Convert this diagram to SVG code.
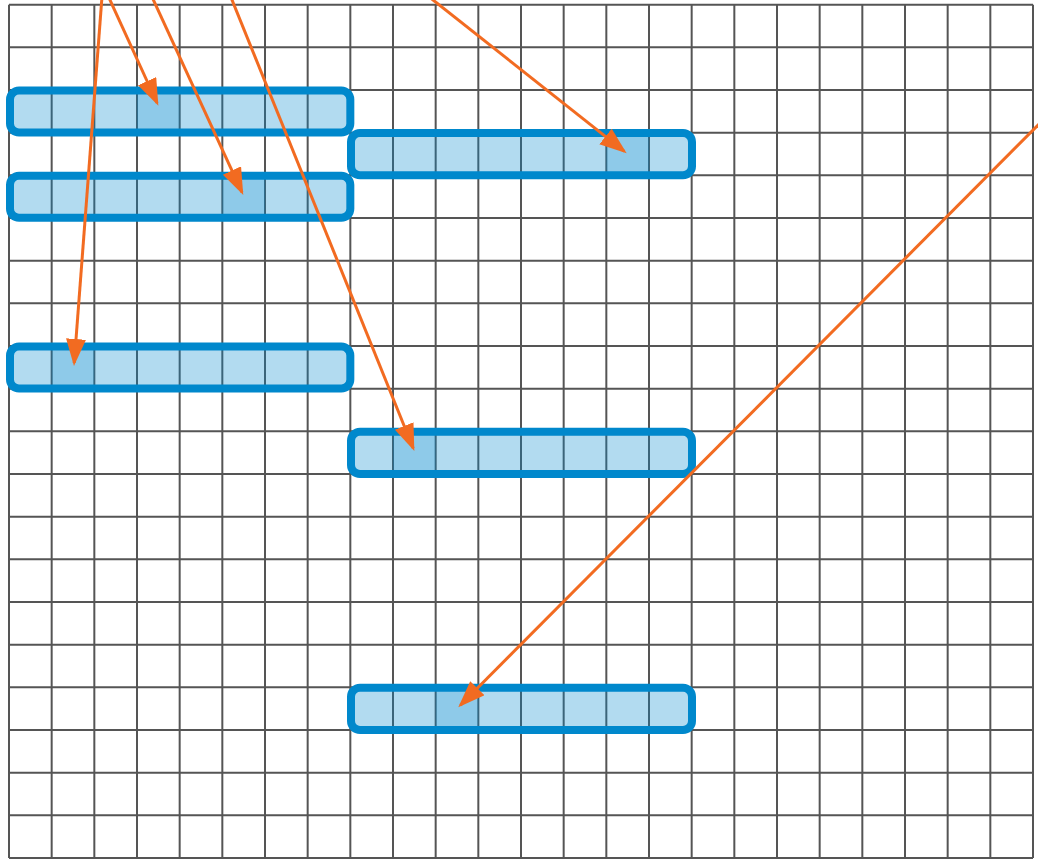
<svg xmlns="http://www.w3.org/2000/svg" width="1038" height="865" viewBox="0 0 1038 865">
<style>
.grid{stroke:#555;stroke-width:2;fill:none}
.box{fill:rgba(0,136,204,0.3);stroke:#0088cc;stroke-width:8}
.hl{fill:rgba(0,136,204,0.2)}
.arrow{stroke:#f26b21;stroke-width:3;fill:none;marker-end:url(#ah)}
</style>
<defs>
<marker id="ah" markerUnits="userSpaceOnUse" markerWidth="30" markerHeight="22" refX="24" refY="10" orient="auto" viewBox="0 0 30 22">
<path d="M0,0 L27,10 L0,20 z" fill="#f26b21"/>
</marker>
</defs>
<rect width="1038" height="865" fill="#fff"/>
<g id="grid" class="grid">
<path d="M9,4.67V858M51.67,4.67V858M94.33,4.67V858M137,4.67V858M179.67,4.67V858M222.33,4.67V858M265,4.67V858M307.67,4.67V858M350.33,4.67V858M393,4.67V858M435.67,4.67V858M478.33,4.67V858M521,4.67V858M563.67,4.67V858M606.33,4.67V858M649,4.67V858M691.67,4.67V858M734.33,4.67V858M777,4.67V858M819.67,4.67V858M862.33,4.67V858M905,4.67V858M947.67,4.67V858M990.33,4.67V858M1033,4.67V858"/>
<path d="M9,4.67H1033M9,47.33H1033M9,90H1033M9,132.67H1033M9,175.33H1033M9,218H1033M9,260.67H1033M9,303.33H1033M9,346H1033M9,388.67H1033M9,431.33H1033M9,474H1033M9,516.67H1033M9,559.33H1033M9,602H1033M9,644.67H1033M9,687.33H1033M9,730H1033M9,772.67H1033M9,815.33H1033M9,858H1033"/>
</g>
<g id="box1">
<rect class="hl" x="137" y="90" width="42.67" height="42.67"/>
<rect class="box" x="10" y="90.5" width="340.33" height="42" rx="9"/>
</g>
<g id="box2">
<rect class="hl" x="222.33" y="175.33" width="42.67" height="42.67"/>
<rect class="box" x="10" y="175.83" width="340.33" height="42" rx="9"/>
</g>
<g id="box3">
<rect class="hl" x="606.33" y="132.67" width="42.67" height="42.67"/>
<rect class="box" x="351" y="133" width="341" height="42.33" rx="9"/>
</g>
<g id="box4">
<rect class="hl" x="51.67" y="346" width="42.67" height="42.67"/>
<rect class="box" x="10" y="346.5" width="340.33" height="42" rx="9"/>
</g>
<g id="box5">
<rect class="hl" x="393" y="431.33" width="42.67" height="42.67"/>
<rect class="box" x="351" y="431.67" width="341" height="42.33" rx="9"/>
</g>
<g id="box6">
<rect class="hl" x="435.67" y="687.33" width="42.67" height="42.67"/>
<rect class="box" x="351" y="687.67" width="341" height="42.33" rx="9"/>
</g>
<g id="connectors">
<line class="arrow" x1="105.4" y1="-10" x2="157.1" y2="103"/>
<line class="arrow" x1="148.8" y1="-10" x2="242" y2="192.3"/>
<line class="arrow" x1="102.5" y1="-10" x2="74.2" y2="363"/>
<line class="arrow" x1="228" y1="-10" x2="413.2" y2="448.2"/>
<line class="arrow" x1="420.4" y1="-10" x2="624.3" y2="151.4"/>
<line class="arrow" x1="1050" y1="113" x2="460.4" y2="705.2"/>
</g>
</svg>
